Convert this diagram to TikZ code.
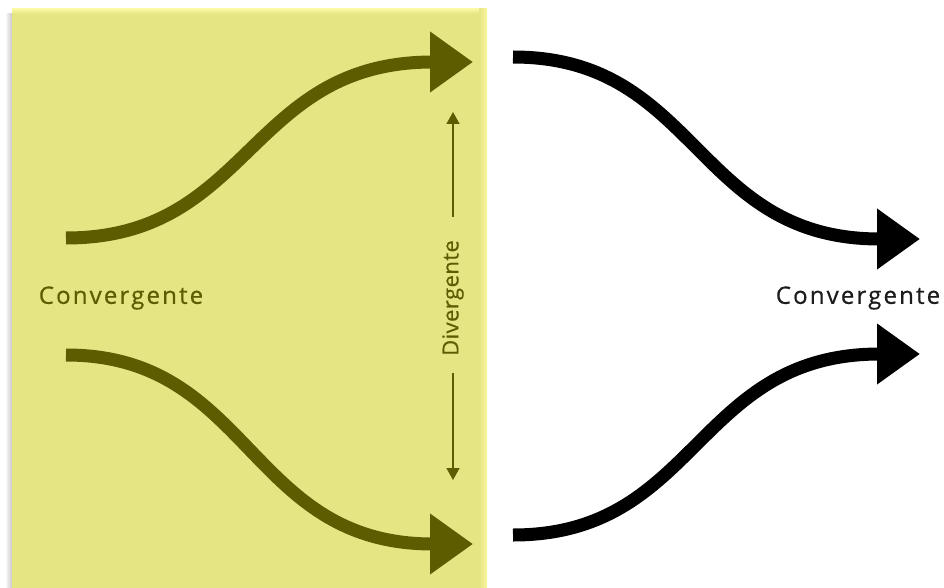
\documentclass[tikz,border=0pt]{standalone}
\usepackage{fontspec}
\setmainfont{Open Sans}
\usetikzlibrary{arrows.meta}
\definecolor{panel}{HTML}{E6E584}
\definecolor{panelEdge}{HTML}{FAF7A0}
\definecolor{olive}{HTML}{5E5C00}
\definecolor{ink}{HTML}{1C1C1C}
\begin{document}
\begin{tikzpicture}[x=1pt,y=-1pt,
  flow/.style={line width=13pt, -{Triangle[length=43pt,width=58pt]}},
  word/.style={font=\fontsize{24}{28}\selectfont\addfontfeature{LetterSpace=9,FakeBold=0.6}, inner sep=0pt},
  vword/.style={font=\fontsize{22}{26}\selectfont\addfontfeature{LetterSpace=2,FakeBold=0.4}, inner sep=0pt, rotate=90},
  guide/.style={line width=1.6pt, olive, -{Triangle[length=12pt,width=13pt]}}]
\useasboundingbox (0,0) rectangle (944,588);
% soft shadow left of the panel
\shade[left color=white, right color=black!22] (5,14) rectangle (12,588);
% the shaded panel
\fill[panel] (12,9) rectangle (487,590);
\shade[left color=panel, right color=panelEdge] (479,9) rectangle (487,590);
\shade[top color=panelEdge, bottom color=panel] (12,9) rectangle (479,14);

% end points of the four flows
\coordinate (tlS) at (66,238);   \coordinate (tlE) at (473,62);
\coordinate (blS) at (66,355);   \coordinate (blE) at (473,544);
\coordinate (trS) at (513,57);   \coordinate (trE) at (920,239);
\coordinate (brS) at (513,535);  \coordinate (brE) at (920,354);

\draw[flow, olive] (tlS) .. controls +(185,0) and +(-225,0) .. (tlE);
\draw[flow, olive] (blS) .. controls +(185,0) and +(-225,0) .. (blE);
\draw[flow, black] (trS) .. controls +(185,0) and +(-225,0) .. (trE);
\draw[flow, black] (brS) .. controls +(185,0) and +(-225,0) .. (brE);

% labels
\node[word, text=olive] (convL) at (121,298) {Convergente};
\node[word, text=ink] (convR) at (858,298) {Convergente};
\node[vword, text=olive] (div) at (453,298) {Divergente};

% divergence guide arrows
\coordinate (upS) at (453,217);  \coordinate (upE) at (453,112);
\coordinate (dnS) at (453,373);  \coordinate (dnE) at (453,480);
\draw[guide] (upS) -- (upE);
\draw[guide] (dnS) -- (dnE);
\end{tikzpicture}
\end{document}
